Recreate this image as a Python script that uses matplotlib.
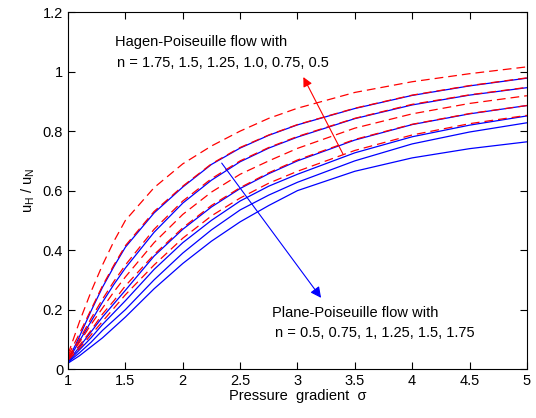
import matplotlib
matplotlib.use("Agg")
import matplotlib.pyplot as plt

plt.rcParams['font.family'] = ['Liberation Sans', 'DejaVu Sans']

sigma = [1.0, 1.1, 1.2, 1.3, 1.4, 1.5, 1.75, 2.0, 2.25, 2.5, 2.75, 3.0, 3.5, 4.0, 4.5, 5.0]

# Hagen-Poiseuille (red dashed), top to bottom: n = 0.5 ... 1.75
hp_n050 = [0.05, 0.16, 0.26, 0.35, 0.43, 0.50, 0.61, 0.69, 0.75, 0.80, 0.843, 0.877, 0.93, 0.966, 0.993, 1.016]
hp_n075 = [0.045, 0.12, 0.20, 0.28, 0.35, 0.415, 0.53, 0.615, 0.69, 0.745, 0.787, 0.822, 0.877, 0.921, 0.953, 0.979]
hp_n100 = [0.04, 0.10, 0.17, 0.235, 0.295, 0.35, 0.47, 0.565, 0.64, 0.70, 0.745, 0.782, 0.843, 0.89, 0.922, 0.947]
hp_n125 = [0.04, 0.09, 0.15, 0.205, 0.26, 0.31, 0.425, 0.52, 0.595, 0.655, 0.70, 0.742, 0.81, 0.858, 0.893, 0.919]
hp_n150 = [0.035, 0.08, 0.13, 0.185, 0.23, 0.28, 0.385, 0.475, 0.55, 0.61, 0.66, 0.703, 0.772, 0.823, 0.859, 0.886]
hp_n175 = [0.03, 0.07, 0.115, 0.16, 0.205, 0.25, 0.35, 0.44, 0.515, 0.575, 0.625, 0.665, 0.735, 0.787, 0.825, 0.853]

# Plane-Poiseuille (blue solid), top to bottom: n = 0.5 ... 1.75
pp_n050 = [0.03, 0.11, 0.195, 0.275, 0.345, 0.41, 0.525, 0.612, 0.688, 0.743, 0.786, 0.821, 0.876, 0.92, 0.952, 0.978]
pp_n075 = [0.028, 0.095, 0.16, 0.225, 0.285, 0.34, 0.46, 0.558, 0.635, 0.697, 0.743, 0.78, 0.842, 0.888, 0.921, 0.946]
pp_n100 = [0.026, 0.075, 0.125, 0.175, 0.22, 0.265, 0.38, 0.47, 0.545, 0.607, 0.657, 0.70, 0.77, 0.822, 0.858, 0.886]
pp_n125 = [0.025, 0.065, 0.105, 0.15, 0.19, 0.23, 0.335, 0.425, 0.50, 0.565, 0.615, 0.655, 0.727, 0.781, 0.82, 0.851]
pp_n150 = [0.023, 0.055, 0.09, 0.13, 0.165, 0.20, 0.30, 0.39, 0.468, 0.535, 0.585, 0.628, 0.70, 0.757, 0.797, 0.828]
pp_n175 = [0.02, 0.045, 0.075, 0.105, 0.14, 0.175, 0.27, 0.355, 0.43, 0.495, 0.55, 0.60, 0.665, 0.71, 0.741, 0.764]

hp_curves = [hp_n050, hp_n075, hp_n100, hp_n125, hp_n150, hp_n175]
pp_curves = [pp_n050, pp_n075, pp_n100, pp_n125, pp_n150, pp_n175]

xticks = [1, 1.5, 2, 2.5, 3, 3.5, 4, 4.5, 5]
xticklabels = ['1', '1.5', '2', '2.5', '3', '3.5', '4', '4.5', '5']
yticks = [0, 0.2, 0.4, 0.6, 0.8, 1.0, 1.2]
yticklabels = ['0', '0.2', '0.4', '0.6', '0.8', '1', '1.2']

fig = plt.figure(figsize=(5.36, 4.18), dpi=100)
ax = fig.add_axes([0.127, 0.117, 0.856, 0.854])

for c in pp_curves:
    ax.plot(sigma, c, color='blue', lw=0.9, solid_joinstyle='round')
for c in hp_curves:
    ax.plot(sigma, c, color='red', lw=0.9, ls=(0, (7, 4)))

ax.set_xlim(1, 5)
ax.set_ylim(0, 1.2)
ax.set_xticks(xticks)
ax.set_xticklabels(xticklabels)
ax.set_yticks(yticks)
ax.set_yticklabels(yticklabels)
ax.tick_params(direction='in', top=True, right=True, labelsize=10.5, length=5, width=0.8, colors='black')
for s in ax.spines.values():
    s.set_linewidth(0.8)

ax.set_xlabel('Pressure  gradient  \u03c3', fontsize=10.5, labelpad=1)
ax.set_ylabel(r'$\mathregular{u_H}$ / $\mathregular{u_N}$', fontsize=10.5, labelpad=4)

ax.annotate('', xy=(3.04, 0.99), xytext=(3.41, 0.713),
            arrowprops=dict(arrowstyle='-|>', color='red', lw=0.8, mutation_scale=14))
ax.annotate('', xy=(3.22, 0.232), xytext=(2.325, 0.70),
            arrowprops=dict(arrowstyle='-|>', color='blue', lw=0.8, mutation_scale=16))

ax.text(1.41, 1.10, 'Hagen-Poiseuille flow with', fontsize=10.5, va='center', ha='left')
ax.text(1.43, 1.03, 'n = 1.75, 1.5, 1.25, 1.0, 0.75, 0.5', fontsize=10.5, va='center', ha='left')
ax.text(2.78, 0.188, 'Plane-Poiseuille flow with', fontsize=10.5, va='center', ha='left')
ax.text(2.80, 0.121, 'n = 0.5, 0.75, 1, 1.25, 1.5, 1.75', fontsize=10.5, va='center', ha='left')

fig.savefig('out.png', dpi=100)
